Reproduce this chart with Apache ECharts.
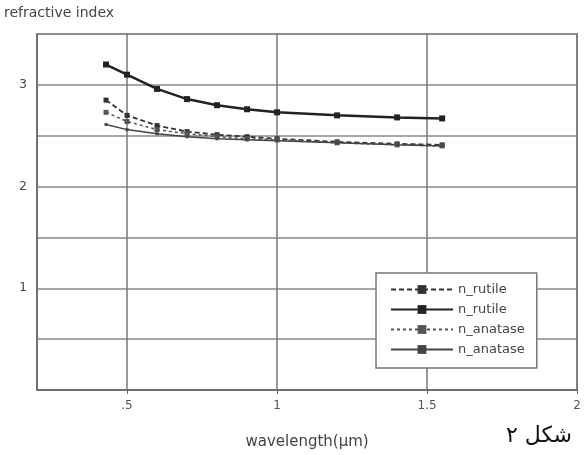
<!DOCTYPE html>
<html>
<head>
<meta charset="utf-8">
<script src="https://cdn.jsdelivr.net/npm/echarts@6/dist/echarts.min.js"></script>
<style>
  html, body { margin: 0; padding: 0; background: #fff; }
  #chart { width: 584px; height: 455px; }
</style>
</head>
<body>
<div id="chart"></div>
<script>
// wavelength in um
const wavelengths = [0.43, 0.5, 0.6, 0.7, 0.8, 0.9, 1.0, 1.2, 1.4, 1.55]

const rutileO = [2.85, 2.70, 2.60, 2.54, 2.51, 2.49, 2.47, 2.44, 2.42, 2.41]
const rutileE = [3.20, 3.10, 2.96, 2.86, 2.80, 2.76, 2.73, 2.70, 2.68, 2.67]
const anataseO = [2.73, 2.64, 2.56, 2.52, 2.49, 2.47, 2.46, 2.43, 2.41, 2.40]
const anataseE = [2.61, 2.56, 2.52, 2.49, 2.47, 2.46, 2.45, 2.43, 2.41, 2.40]

const seriesNames = ['rutile_o', 'rutile_e', 'anatase_o', 'anatase_e']
const legendLabels = ['n_rutile', 'n_rutile', 'n_anatase', 'n_anatase']

const xTicks = [0.5, 1, 1.5, 2]
const yLabels = [1, 2, 3]

const font = 'DejaVu Sans'

function pairs(ys) {
  return wavelengths.map((x, i) => [x, ys[i]])
}

const chart = echarts.init(document.getElementById('chart'))

chart.setOption({
  animation: false,
  backgroundColor: '#fff',
  grid: {
    left: 37,
    right: 4,
    top: 34,
    bottom: 65,
    show: true,
    borderColor: '#777',
    borderWidth: 1.5
  },
  legend: {
    orient: 'vertical',
    left: 376,
    top: 273,
    padding: [10, 12, 12, 14],
    itemGap: 7,
    itemWidth: 62,
    itemHeight: 11,
    backgroundColor: '#fff',
    borderColor: '#777',
    borderWidth: 1.5,
    data: seriesNames,
    formatter: function (name) {
      return legendLabels[seriesNames.indexOf(name)]
    },
    textStyle: { fontFamily: font, fontSize: 13, color: '#444' }
  },
  xAxis: {
    type: 'value',
    min: 0.2,
    max: 2,
    name: 'wavelength(μm)',
    nameLocation: 'middle',
    nameGap: 45,
    nameTextStyle: { fontFamily: font, fontSize: 15, color: '#444' },
    axisLine: { lineStyle: { color: '#666', width: 1.5 } },
    axisTick: { show: true, customValues: xTicks, length: 4, lineStyle: { color: '#666' } },
    axisLabel: {
      customValues: xTicks,
      margin: 10,
      fontFamily: font,
      fontSize: 12,
      color: '#555',
      formatter: function (v) {
        return v === 0.5 ? '.5' : String(v)
      }
    },
    splitLine: { show: true, lineStyle: { color: '#777', width: 1.5 } }
  },
  yAxis: {
    type: 'value',
    min: 0,
    max: 3.5,
    interval: 0.5,
    name: 'refractive index',
    nameLocation: 'end',
    nameGap: 14,
    nameTextStyle: { fontFamily: font, fontSize: 14, color: '#444', align: 'left', padding: [0, 0, 0, -33] },
    axisLine: { show: true, lineStyle: { color: '#666', width: 1.5 } },
    axisTick: { show: false },
    axisLabel: {
      margin: 10,
      fontFamily: font,
      fontSize: 12,
      color: '#444',
      formatter: function (v) {
        return yLabels.indexOf(v) >= 0 ? String(v) : ''
      }
    },
    splitLine: { show: true, lineStyle: { color: '#888', width: 1.5 } }
  },
  graphic: [{
    type: 'text',
    left: 506,
    top: 425,
    style: { text: 'شکل ۲', fontFamily: 'DejaVu Sans', fontSize: 22, fill: '#111' }
  }],
  series: [
    {
      name: seriesNames[0],
      type: 'line',
      data: pairs(rutileO),
      symbol: 'rect',
      symbolSize: 5,
      itemStyle: { color: '#333' },
      lineStyle: { color: '#333', width: 1.8, type: [5, 3] }
    },
    {
      name: seriesNames[1],
      type: 'line',
      data: pairs(rutileE),
      symbol: 'rect',
      symbolSize: 6,
      itemStyle: { color: '#222' },
      lineStyle: { color: '#222', width: 2.5 }
    },
    {
      name: seriesNames[2],
      type: 'line',
      data: pairs(anataseO),
      symbol: 'rect',
      symbolSize: 5,
      itemStyle: { color: '#555' },
      lineStyle: { color: '#555', width: 1.5, type: [3, 3] }
    },
    {
      name: seriesNames[3],
      type: 'line',
      data: pairs(anataseE),
      symbol: 'rect',
      symbolSize: 3,
      itemStyle: { color: '#444' },
      lineStyle: { color: '#444', width: 1.5 }
    }
  ]
})
</script>
</body>
</html>
